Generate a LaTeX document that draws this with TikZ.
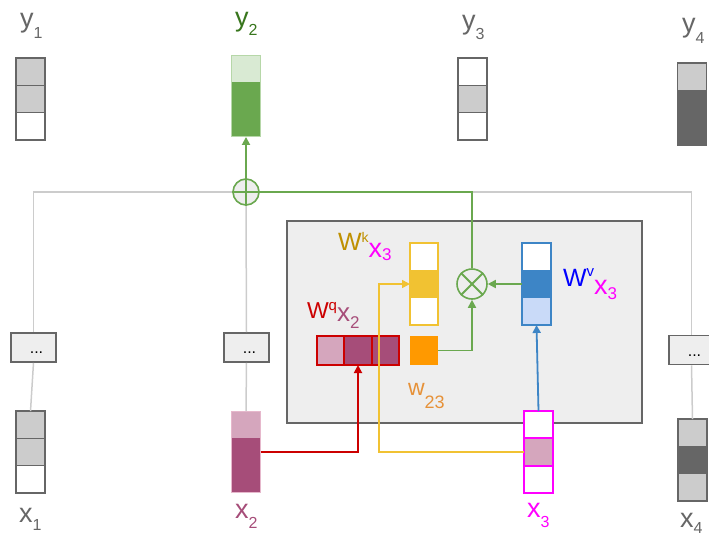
\documentclass[tikz,border=0pt]{standalone}
\usepackage{fontspec}
\setmainfont{Liberation Sans}
\usetikzlibrary{arrows.meta,calc}
\definecolor{cG}{HTML}{666666}
\definecolor{cL}{HTML}{CCCCCC}
\definecolor{cE}{HTML}{EEEEEE}
\definecolor{grn}{HTML}{6AA84F}
\definecolor{lgrn}{HTML}{D9EAD3}
\definecolor{bgrn}{HTML}{B6D7A8}
\definecolor{dgrn}{HTML}{38761D}
\definecolor{pnk}{HTML}{D5A6BD}
\definecolor{dpnk}{HTML}{A64D79}
\definecolor{bpnk}{HTML}{E6B8CC}
\definecolor{mag}{HTML}{FF00FF}
\definecolor{rd}{HTML}{CC0000}
\definecolor{yel}{HTML}{F1C232}
\definecolor{blu}{HTML}{3D85C6}
\definecolor{lblu}{HTML}{C9DAF8}
\definecolor{org}{HTML}{FF9900}
\definecolor{dorg}{HTML}{E69138}
\definecolor{gold}{HTML}{BF9000}
\definecolor{pblue}{HTML}{0000FF}
\newcommand{\fsz}[1]{\fontsize{#1}{#1}\selectfont}
\begin{document}
\begin{tikzpicture}[x=1pt,y=-1pt,
  cell/.style={rectangle,inner sep=0,outer sep=0,minimum width=29pt,minimum height=27.33pt},
  gcell/.style={cell,draw=cG,line width=1.6pt},
  ycell/.style={cell,draw=yel,line width=1.5pt,minimum width=28pt},
  bcell/.style={cell,draw=blu,line width=1.5pt},
  mcell/.style={cell,draw=mag,line width=2pt},
  rcell/.style={rectangle,inner sep=0,outer sep=0,minimum width=27.33pt,minimum height=29pt,draw=rd,line width=2pt},
  dotbox/.style={rectangle,draw=cG,fill=cE,line width=1.6pt,minimum width=45pt,minimum height=29pt,inner sep=0,font=\fsz{16}},
  lbl/.style={anchor=base west,inner sep=0,outer sep=0},
  gl/.style={draw=cL,line width=1.5pt},
  gnl/.style={draw=grn,line width=1.8pt},
  tip/.style={-{Triangle[length=8pt,width=8pt]}}
]
\useasboundingbox (0,0) rectangle (709,536);

% attention box
\node[rectangle,draw=cG,fill=cE,line width=1.6pt,minimum width=355pt,minimum height=202pt,inner sep=0] (att) at (464.5,322) {};

% y vectors
\node[gcell,fill=cL] (y1a) at (30.5,71.7) {};
\node[gcell,fill=cL] (y1b) at (30.5,99) {};
\node[gcell,fill=white] (y1c) at (30.5,126.3) {};

\node[cell,fill=lgrn] (y2a) at (246,68.7) {};
\node[cell,fill=grn] (y2b) at (246,96) {};
\node[cell,fill=grn] (y2c) at (246,123.3) {};
\draw[bgrn,line width=1pt] (y2a.north west) rectangle (y2c.south east);

\node[gcell,fill=white] (y3a) at (472.5,71.7) {};
\node[gcell,fill=cL] (y3b) at (472.5,99) {};
\node[gcell,fill=white] (y3c) at (472.5,126.3) {};

\node[gcell,fill=cL] (y4a) at (692,76.7) {};
\node[gcell,fill=cG] (y4b) at (692,104) {};
\node[gcell,fill=cG] (y4c) at (692,131.3) {};

% x vectors
\node[gcell,fill=cL] (x1a) at (30.5,424.7) {};
\node[gcell,fill=cL] (x1b) at (30.5,452) {};
\node[gcell,fill=white] (x1c) at (30.5,479.3) {};

\node[cell,fill=pnk] (x2a) at (246,424.7) {};
\node[cell,fill=dpnk] (x2b) at (246,452) {};
\node[cell,fill=dpnk] (x2c) at (246,479.3) {};
\draw[bpnk,line width=1pt] (x2a.north west) rectangle (x2c.south east);

\node[mcell,fill=white] (x3a) at (538.5,424.7) {};
\node[mcell,fill=pnk] (x3b) at (538.5,452) {};
\node[mcell,fill=white] (x3c) at (538.5,479.3) {};

\node[gcell,fill=cL] (x4a) at (692.5,432.7) {};
\node[gcell,fill=cG] (x4b) at (692.5,460) {};
\node[gcell,fill=cL] (x4c) at (692.5,487.3) {};

% inner vectors
\node[ycell,fill=white] (k1) at (424,256.7) {};
\node[ycell,fill=yel] (k2) at (424,284) {};
\node[ycell,fill=white] (k3) at (424,311.3) {};

\node[bcell,fill=white] (v1) at (536.5,256.7) {};
\node[bcell,fill=blu] (v2) at (536.5,284) {};
\node[bcell,fill=lblu] (v3) at (536.5,311.3) {};

\node[rcell,fill=pnk] (q1) at (330.7,350.5) {};
\node[rcell,fill=dpnk] (q2) at (358,350.5) {};
\node[rcell,fill=dpnk] (q3) at (385.3,350.5) {};

\node[rectangle,fill=org,inner sep=0,minimum width=28pt,minimum height=29pt] (w) at (424,350.5) {};

% dots boxes
\node[dotbox] (d1) at (33.5,347.5) {\raisebox{-6pt}[0pt][0pt]{\hspace{6pt}...}};
\node[dotbox] (d2) at (246.5,347.5) {\raisebox{-6pt}[0pt][0pt]{\hspace{6pt}...}};
\node[dotbox] (d4) at (691.5,350) {\raisebox{-6pt}[0pt][0pt]{\hspace{6pt}...}};

% operators
\node[circle,draw=grn,fill=cE,line width=1.6pt,minimum size=26pt,inner sep=0] (plus) at (246,192) {};
\node[circle,draw=grn,line width=1.6pt,minimum size=30pt,inner sep=0] (mult) at (472,284) {};
\draw[gnl] (mult.north east) -- (mult.south west) (mult.north west) -- (mult.south east);

% gray connectors
\coordinate (J) at (mult.north |- plus.center);
\draw[gl] (plus.west) -| (d1.north);
\draw[gl] (d1.south) -- (x1a.north);
\draw[gl] (plus.south) -- (d2.north);
\draw[gl] (d2.south) -- (x2a.north);
\draw[gl] (J) -| (d4.north);
\draw[gl] (d4.south) -- (x4a.north);

% green connectors
\draw[gnl] (mult.north) -- (J) -- (plus.west);
\draw[gnl,tip] (plus.south) -- (y2c.south);
\draw[gnl,tip] (w.east) -| (mult.south);
\draw[gnl,tip] (v2.west) -- (mult.east);

% other connectors
\draw[blu,line width=1.8pt,tip] (x3a.north) -- (v3.south);
\draw[rd,line width=1.8pt,tip] (x2b.east) -| (q2.south);
\draw[yel,line width=1.6pt,tip] (x3b.west) -| ($(k2.west)+(-31,0)$) -- (k2.west);

% labels
\node[lbl,text=cG] (ly1) at (20,27) {\fsz{27}y\raisebox{-11pt}{\fsz{16}1}};
\node[lbl,text=dgrn] (ly2) at (235,26) {\fsz{27}y\raisebox{-9pt}{\fsz{16}2}};
\node[lbl,text=cG] (ly3) at (462,29) {\fsz{27}y\raisebox{-10pt}{\fsz{16}3}};
\node[lbl,text=cG] (ly4) at (682,32) {\fsz{27}y\raisebox{-11pt}{\fsz{16}4}};
\node[lbl,text=cG] (lx1) at (19,522) {\fsz{27}x\raisebox{-8pt}{\fsz{16}1}};
\node[lbl,text=dpnk] (lx2) at (235,518) {\fsz{27}x\raisebox{-10pt}{\fsz{16}2}};
\node[lbl,text=mag] (lx3) at (527,517) {\fsz{27}x\raisebox{-10pt}{\fsz{16}3}};
\node[lbl,text=cG] (lx4) at (680,527) {\fsz{27}x\raisebox{-6pt}{\fsz{16}4}};

\node[lbl] (lk) at (338,250) {\textcolor{gold}{\fsz{25}W\raisebox{8pt}{\fsz{14}k}}\textcolor{mag}{\raisebox{-7pt}{\fsz{27}x}\raisebox{-10pt}{\fsz{17}3}}};
\node[lbl] (lq) at (307,318) {\textcolor{rd}{\fsz{23}W\raisebox{8pt}{\fsz{15}q}}\textcolor{dpnk}{\raisebox{-3pt}{\fsz{26}x}\raisebox{-10pt}{\fsz{17}2}}};
\node[lbl] (lv) at (563,286) {\textcolor{pblue}{\fsz{25}W\raisebox{10pt}{\fsz{15}v}}\textcolor{mag}{\raisebox{-8pt}{\fsz{27}x}\raisebox{-13pt}{\fsz{17}3}}};
\node[lbl,text=dorg] (lw) at (408,395) {\fsz{23}w\raisebox{-13pt}{\fsz{18}23}};
\end{tikzpicture}
\end{document}
